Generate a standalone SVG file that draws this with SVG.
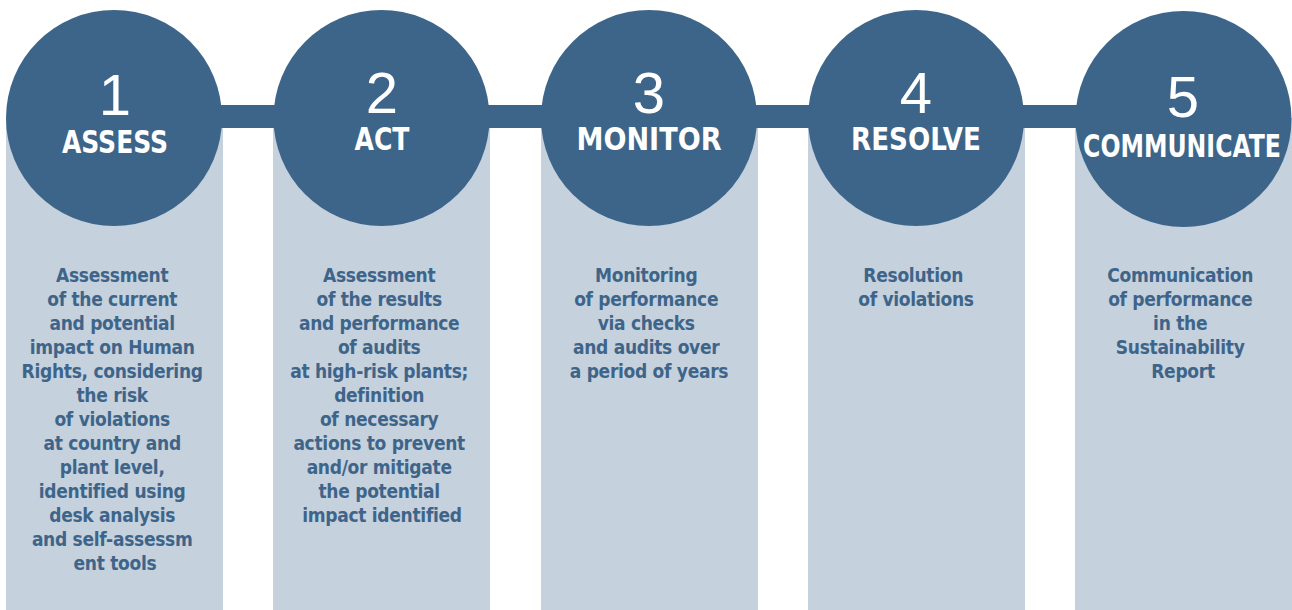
<svg xmlns="http://www.w3.org/2000/svg" width="1292" height="610" viewBox="0 0 1292 610">
<style>
.col{fill:#c5d1dd}
.circ{fill:#3d6589}
.num{font-family:"Liberation Sans",Arial,sans-serif;font-size:58px;fill:#ffffff;text-anchor:middle}
.ttl{font-family:"DejaVu Sans Condensed","DejaVu Sans",sans-serif;font-weight:bold;font-size:32px;fill:#ffffff;text-anchor:middle}
.body{font-family:"DejaVu Sans Condensed","DejaVu Sans",sans-serif;font-weight:bold;font-size:19px;fill:#3e6589;text-anchor:middle;letter-spacing:-0.3px}
</style>
<rect width="1292" height="610" fill="#ffffff"/>
<g id="columns">
<rect class="col" x="6" y="118" width="217" height="492"/>
<rect class="col" x="273" y="118" width="217" height="492"/>
<rect class="col" x="541" y="118" width="217" height="492"/>
<rect class="col" x="808" y="118" width="217" height="492"/>
<rect class="col" x="1075" y="118" width="217" height="492"/>
</g>
<g id="connectors">
<rect class="circ" x="114" y="105" width="1069" height="23"/>
</g>
<g id="step1">
<circle class="circ" cx="114" cy="118" r="108"/>
<text class="num" x="115" y="115">1</text>
<text class="ttl" x="115" y="153" textLength="106" lengthAdjust="spacingAndGlyphs" font-size="34">ASSESS</text>
<text class="body" x="115">
<tspan x="115" y="282">Assessment</tspan>
<tspan x="115" y="306">of the current</tspan>
<tspan x="115" y="330">and potential</tspan>
<tspan x="115" y="354">impact on Human</tspan>
<tspan x="115" y="378">Rights, considering</tspan>
<tspan x="115" y="402">the risk</tspan>
<tspan x="115" y="426">of violations</tspan>
<tspan x="115" y="450">at country and</tspan>
<tspan x="115" y="474">plant level,</tspan>
<tspan x="115" y="498">identified using</tspan>
<tspan x="115" y="522">desk analysis</tspan>
<tspan x="115" y="546">and self-assessm</tspan>
<tspan x="115" y="570">ent tools</tspan>
</text>
</g>
<g id="step2">
<circle class="circ" cx="381.5" cy="118" r="108"/>
<text class="num" x="382" y="113">2</text>
<text class="ttl" x="382" y="150" textLength="55" lengthAdjust="spacingAndGlyphs">ACT</text>
<text class="body" x="382">
<tspan x="382" y="282">Assessment</tspan>
<tspan x="382" y="306">of the results</tspan>
<tspan x="382" y="330">and performance</tspan>
<tspan x="382" y="354">of audits</tspan>
<tspan x="382" y="378">at high-risk plants;</tspan>
<tspan x="382" y="402">definition</tspan>
<tspan x="382" y="426">of necessary</tspan>
<tspan x="382" y="450">actions to prevent</tspan>
<tspan x="382" y="474">and/or mitigate</tspan>
<tspan x="382" y="498">the potential</tspan>
<tspan x="382" y="522">impact identified</tspan>
</text>
</g>
<g id="step3">
<circle class="circ" cx="649" cy="118" r="108"/>
<text class="num" x="649" y="113">3</text>
<text class="ttl" x="649" y="150" textLength="145" lengthAdjust="spacingAndGlyphs">MONITOR</text>
<text class="body" x="649">
<tspan x="649" y="282">Monitoring</tspan>
<tspan x="649" y="306">of performance</tspan>
<tspan x="649" y="330">via checks</tspan>
<tspan x="649" y="354">and audits over</tspan>
<tspan x="649" y="378">a period of years</tspan>
</text>
</g>
<g id="step4">
<circle class="circ" cx="916" cy="118" r="108"/>
<text class="num" x="916" y="113">4</text>
<text class="ttl" x="916" y="150" textLength="130" lengthAdjust="spacingAndGlyphs">RESOLVE</text>
<text class="body" x="916">
<tspan x="916" y="282">Resolution</tspan>
<tspan x="916" y="306">of violations</tspan>
</text>
</g>
<g id="step5">
<circle class="circ" cx="1183.5" cy="119" r="108"/>
<text class="num" x="1183" y="117">5</text>
<text class="ttl" transform="translate(1182 157) scale(0.82 1)" x="0" y="0" font-size="31">COMMUNICATE</text>
<text class="body" x="1183">
<tspan x="1183" y="282">Communication</tspan>
<tspan x="1183" y="306">of performance</tspan>
<tspan x="1183" y="330">in the</tspan>
<tspan x="1183" y="354">Sustainability</tspan>
<tspan x="1183" y="378">Report</tspan>
</text>
</g>
</svg>
